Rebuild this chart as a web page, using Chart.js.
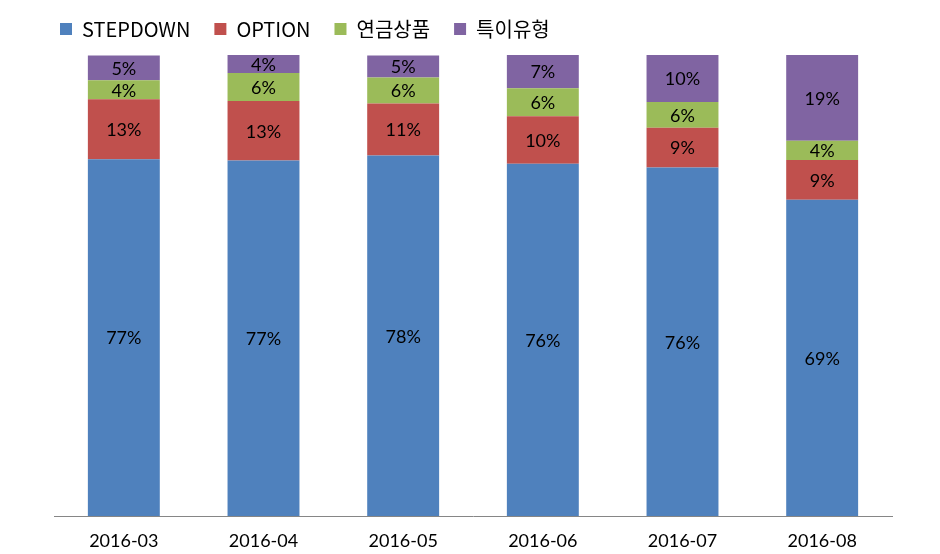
<!DOCTYPE html>
<html>
<head>
<meta charset="utf-8">
<script src="https://cdn.jsdelivr.net/npm/chart.js@4/dist/chart.umd.min.js"></script>
<style>
  html, body { margin: 0; padding: 0; background: #fff; }
  #wrap { width: 940px; height: 554px; }
</style>
</head>
<body>
<div id="wrap"><canvas id="productMixChart" width="940" height="554"></canvas></div>
<script>
// monthly share by product type (%)
const months = ['2016-03', '2016-04', '2016-05', '2016-06', '2016-07', '2016-08'];
const stepdown = [77.4, 77.1, 78.2, 76.4, 75.6, 68.6];
const option = [13.0, 12.9, 11.3, 10.3, 8.6, 8.6];
const annuity = [4.1, 6.1, 5.6, 6.1, 5.6, 4.2];
const special = [5.4, 3.9, 4.8, 7.2, 10.2, 18.6];

const FONT = "Lato, 'Noto Sans CJK KR', sans-serif";
const LEGEND_FONT = "'Liberation Sans Narrow', 'Noto Sans CJK KR', sans-serif";

// draws the % label in the middle of each segment
const segmentLabels = {
    id: 'segmentLabels',
    afterDatasetsDraw(chart) {
        const ctx = chart.ctx;
        ctx.save();
        ctx.font = '18px ' + FONT;
        ctx.fillStyle = '#000';
        ctx.textAlign = 'center';
        ctx.textBaseline = 'middle';
        chart.data.datasets.forEach(function(ds, i) {
            const meta = chart.getDatasetMeta(i);
            meta.data.forEach(function(bar, j) {
                const mid = (bar.y + bar.base) / 2;
                ctx.fillText(Math.round(ds.data[j]) + '%', bar.x, mid + 1);
            });
        });
        ctx.restore();
    }
};

// fix the legend box height so the plot starts where the original does
const legendHeight = {
    id: 'legendHeight',
    beforeInit(chart) {
        const origFit = chart.legend.fit;
        chart.legend.fit = function() {
            origFit.call(this);
            this.height = 60;
        };
    }
};

new Chart(document.getElementById('productMixChart'), {
    type: 'bar',
    data: {
        labels: months,
        datasets: [
            { label: 'STEPDOWN', data: stepdown, backgroundColor: '#4F81BD' },
            { label: 'OPTION', data: option, backgroundColor: '#C0504D' },
            { label: '연금상품', data: annuity, backgroundColor: '#9BBB59' },
            { label: '특이유형', data: special, backgroundColor: '#8064A2' }
        ]
    },
    options: {
        responsive: false,
        devicePixelRatio: 1,
        animation: false,
        layout: { padding: { left: 36, right: 48, top: -5, bottom: 0 } },
        datasets: {
            bar: { categoryPercentage: 1, barPercentage: 0.515, borderWidth: 0 }
        },
        plugins: {
            legend: {
                position: 'top',
                align: 'start',
                labels: {
                    font: { family: LEGEND_FONT, size: 20 },
                    color: '#000',
                    boxWidth: 12,
                    boxHeight: 12,
                    padding: 24
                }
            },
            tooltip: { enabled: false }
        },
        scales: {
            x: {
                stacked: true,
                grid: { display: false },
                border: { display: true, color: '#868686', width: 1 },
                ticks: { color: '#000', font: { family: FONT, size: 18 }, padding: 6 },
                afterFit(scale) { scale.height = 38; }
            },
            y: {
                stacked: true,
                min: 0,
                max: 100,
                grid: { display: false },
                border: { display: false },
                ticks: { display: false },
                afterFit(scale) { scale.width = 18; }
            }
        }
    },
    plugins: [segmentLabels, legendHeight]
});
</script>
</body>
</html>
